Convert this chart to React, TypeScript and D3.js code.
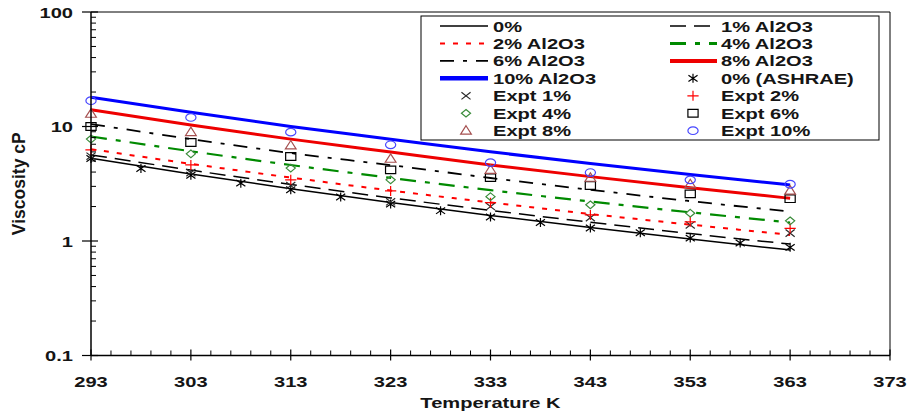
import React from "react";
import * as d3 from "d3";

// Temperatures (K) at which the model curves and experiments are given
const temps = [293, 303, 313, 323, 333, 343, 353, 363];

// Model curves, viscosity in cP
const model0 = [5.27, 3.85, 2.86, 2.17, 1.67, 1.31, 1.04, 0.834];
const model1 = [5.65, 4.16, 3.12, 2.38, 1.85, 1.46, 1.16, 0.94];
const model2 = [6.34, 4.72, 3.58, 2.76, 2.17, 1.72, 1.39, 1.13];
const model4 = [8.18, 6.08, 4.61, 3.56, 2.78, 2.21, 1.78, 1.45];
const model6 = [10.5, 7.77, 5.86, 4.6, 3.55, 2.8, 2.23, 1.81];
const model8 = [14.0, 10.3, 7.76, 5.98, 4.62, 3.65, 2.92, 2.36];
const model10 = [18.0, 13.3, 10.0, 7.75, 6.01, 4.75, 3.81, 3.09];

// ASHRAE base fluid values every 5 K
const ashraeTemps = [293, 298, 303, 308, 313, 318, 323, 328, 333, 338, 343, 348, 353, 358, 363];
const ashrae0 = [5.25, 4.3, 3.75, 3.2, 2.8, 2.42, 2.1, 1.84, 1.62, 1.45, 1.3, 1.18, 1.06, 0.96, 0.88];

// Measurements
const expt1 = [5.5, 3.95, 3.05, 2.2, 2.0, 1.6, 1.38, 1.17];
const expt2 = [6.25, 4.62, 3.42, 2.74, 2.16, 1.69, 1.47, 1.29];
const expt4 = [7.76, 5.77, 4.33, 3.42, 2.44, 2.07, 1.75, 1.5];
const expt6 = [10.0, 7.25, 5.47, 4.18, 3.58, 3.05, 2.58, 2.34];
const expt8 = [12.9, 8.93, 6.82, 5.22, 4.18, 3.56, 3.13, 2.75];
const expt10 = [16.8, 12.0, 8.93, 6.92, 4.84, 3.96, 3.42, 3.13];

// Axis ticks
const xTickLabels = [293, 303, 313, 323, 333, 343, 353, 363, 373];
const yTickLabels = ["0.1", "1", "10", "100"];

const W = 909;
const H = 415;
const SX = 1.34; // horizontal glyph stretch
const FONT = "'Liberation Sans', Arial, sans-serif";
const TEXT = "#151515";

type LineStyle = { color: string; width: number; dash?: string; legendWidth?: number };
type MarkerKind = "asterisk" | "x" | "plus" | "diamond" | "square" | "triangle" | "circle";

const lineSeries: { label: string; values: number[]; style: LineStyle }[] = [
  { label: "0%", values: model0, style: { color: "#000", width: 1.5 } },
  { label: "1% Al2O3", values: model1, style: { color: "#000", width: 1.5, dash: "16,8" } },
  { label: "2% Al2O3", values: model2, style: { color: "#ff0000", width: 2, dash: "5,8" } },
  { label: "4% Al2O3", values: model4, style: { color: "#008a00", width: 2.2, dash: "16,9,5,9", legendWidth: 3 } },
  { label: "6% Al2O3", values: model6, style: { color: "#000", width: 1.8, dash: "14,9,4,9" } },
  { label: "8% Al2O3", values: model8, style: { color: "#ee0000", width: 3, legendWidth: 4 } },
  { label: "10% Al2O3", values: model10, style: { color: "#0000ff", width: 3, legendWidth: 4.5 } },
];

const markerSeries: { label: string; t: number[]; values: number[]; kind: MarkerKind; color: string }[] = [
  { label: "0% (ASHRAE)", t: ashraeTemps, values: ashrae0, kind: "asterisk", color: "#000" },
  { label: "Expt 1%", t: temps, values: expt1, kind: "x", color: "#2a2a2a" },
  { label: "Expt 2%", t: temps, values: expt2, kind: "plus", color: "#ff0000" },
  { label: "Expt 4%", t: temps, values: expt4, kind: "diamond", color: "#3a8c3a" },
  { label: "Expt 6%", t: temps, values: expt6, kind: "square", color: "#000" },
  { label: "Expt 8%", t: temps, values: expt8, kind: "triangle", color: "#a55050" },
  { label: "Expt 10%", t: temps, values: expt10, kind: "circle", color: "#4646ff" },
];

function markerPath(kind: MarkerKind): string {
  switch (kind) {
    case "asterisk":
      return "M0,-4.5L0,4.5M-3.4,-3.2L3.4,3.2M-3.4,3.2L3.4,-3.2";
    case "x":
      return "M-3.4,-3.6L3.4,3.6M-3.4,3.6L3.4,-3.6";
    case "plus":
      return "M-4.2,0L4.2,0M0,-5L0,5";
    case "diamond":
      return "M0,-3.8L3.4,0L0,3.8L-3.4,0Z";
    case "square":
      return "M-3.8,-3.8L3.8,-3.8L3.8,3.8L-3.8,3.8Z";
    case "triangle":
      return "M0,-5L4,3.4L-4,3.4Z";
    case "circle":
      return "M-3.8,0A3.8,3.8 0 1,0 3.8,0A3.8,3.8 0 1,0 -3.8,0Z";
  }
}

function Marker({ x, y, kind, color }: { x: number; y: number; kind: MarkerKind; color: string }) {
  return (
    <path
      d={markerPath(kind)}
      transform={`translate(${x},${y}) scale(${SX},1)`}
      fill="none"
      stroke={color}
      strokeWidth={1.2}
      vectorEffect="non-scaling-stroke"
    />
  );
}

function Label({ x, y, children, anchor = "start", size = 15 }: { x: number; y: number; children: React.ReactNode; anchor?: string; size?: number }) {
  return (
    <text
      transform={`translate(${x},${y}) scale(${SX},1)`}
      textAnchor={anchor}
      fontFamily={FONT}
      fontWeight="bold"
      fontSize={size}
      fill={TEXT}
    >
      {children}
    </text>
  );
}

export default function App() {
  const x = d3.scaleLinear().domain([293, 373]).range([91, 890]);
  const y = d3.scaleLog().domain([0.1, 100]).range([355.5, 12]);

  const line = d3
    .line<[number, number]>()
    .x((d) => x(d[0]))
    .y((d) => y(d[1]))
    .curve(d3.curveMonotoneX);

  const x0 = x(293);
  const y0 = y(0.1);
  const xEnd = x(373);
  const yTop = y(100);

  // minor ticks on x every 2 K, majors every 10 K
  const xMinor = d3.range(293, 373.1, 2).filter((t) => (t - 293) % 10 !== 0);
  const yMinor: number[] = [];
  [0.1, 1, 10].forEach((dec) => {
    for (let k = 2; k <= 9; k++) yMinor.push(dec * k);
  });

  // legend geometry
  const rowY = (i: number) => 26 + i * 17.45;
  const colLine = [
    [440, 488],
    [670, 717],
  ];
  const colText = [493, 721];
  const colMarker = [466, 693];

  type Entry = { label: string; line?: LineStyle; marker?: { kind: MarkerKind; color: string } };
  const entries: Entry[] = [
    ...lineSeries.map((s) => ({ label: s.label, line: s.style })),
    ...markerSeries.map((m) => ({ label: m.label, marker: { kind: m.kind, color: m.color } })),
  ];

  return (
    <svg width={W} height={H} style={{ position: "absolute", left: 0, top: 0, background: "#fff" }}>
      <rect x={0} y={0} width={W} height={H} fill="#fff" />

      {/* frame */}
      <line x1={x0} x2={xEnd} y1={yTop} y2={yTop} stroke="#000" strokeWidth={1} />
      <line x1={xEnd} x2={xEnd} y1={yTop} y2={y0} stroke="#000" strokeWidth={1} />

      {/* model curves */}
      {lineSeries.map((s) => (
        <path
          key={s.label}
          d={line(temps.map((t, i) => [t, s.values[i]] as [number, number])) || ""}
          fill="none"
          stroke={s.style.color}
          strokeWidth={s.style.width}
          strokeDasharray={s.style.dash}
        />
      ))}

      {/* measured points */}
      {markerSeries.map((m) => (
        <g key={m.label}>
          {m.t.map((t, i) => (
            <Marker key={t} x={x(t)} y={y(m.values[i])} kind={m.kind} color={m.color} />
          ))}
        </g>
      ))}

      {/* axes */}
      <line x1={x0} x2={xEnd} y1={y0} y2={y0} stroke="#000" strokeWidth={1.5} />
      <line x1={x0} x2={x0} y1={yTop} y2={y0} stroke="#000" strokeWidth={1.5} />

      {xMinor.map((t) => (
        <line key={`xm${t}`} x1={x(t)} x2={x(t)} y1={y0} y2={y0 - 5} stroke="#000" strokeWidth={1} />
      ))}
      {xTickLabels.map((t) => (
        <g key={`xt${t}`}>
          <line x1={x(t)} x2={x(t)} y1={y0 + 5} y2={y0 - 6} stroke="#000" strokeWidth={1.2} />
          <Label x={x(t)} y={y0 + 31} anchor="middle">
            {t}
          </Label>
        </g>
      ))}

      {yMinor.map((v) => (
        <line key={`ym${v}`} x1={x0} x2={x0 + 5} y1={y(v)} y2={y(v)} stroke="#000" strokeWidth={1} />
      ))}
      {yTickLabels.map((s) => (
        <g key={`yt${s}`}>
          <line x1={x0 - 9} x2={x0 + 7} y1={y(+s)} y2={y(+s)} stroke="#000" strokeWidth={1.2} />
          <Label x={x0 - 18} y={y(+s) + 5.5} anchor="end">
            {s}
          </Label>
        </g>
      ))}

      {/* axis titles */}
      <Label x={(x0 + xEnd) / 2} y={408} anchor="middle">
        Temperature K
      </Label>
      <text
        transform={`translate(25,${(y(10) + y(1)) / 2}) rotate(-90)`}
        textAnchor="middle"
        fontFamily={FONT}
        fontWeight="bold"
        fontSize={17.5}
        fill={TEXT}
      >
        Viscosity cP
      </text>

      {/* legend */}
      <rect x={421} y={16} width={458} height={124} fill="#fff" stroke="#000" strokeWidth={1} />
      {entries.map((e, i) => {
        const col = i % 2;
        const row = Math.floor(i / 2);
        const cy = rowY(row);
        return (
          <g key={e.label}>
            {e.line && (
              <line
                x1={colLine[col][0]}
                x2={colLine[col][1]}
                y1={cy}
                y2={cy}
                stroke={e.line.color}
                strokeWidth={e.line.legendWidth ?? e.line.width}
                strokeDasharray={e.line.dash}
              />
            )}
            {e.marker && <Marker x={colMarker[col]} y={cy} kind={e.marker.kind} color={e.marker.color} />}
            <Label x={colText[col]} y={cy + 5.5}>
              {e.label}
            </Label>
          </g>
        );
      })}
    </svg>
  );
}
